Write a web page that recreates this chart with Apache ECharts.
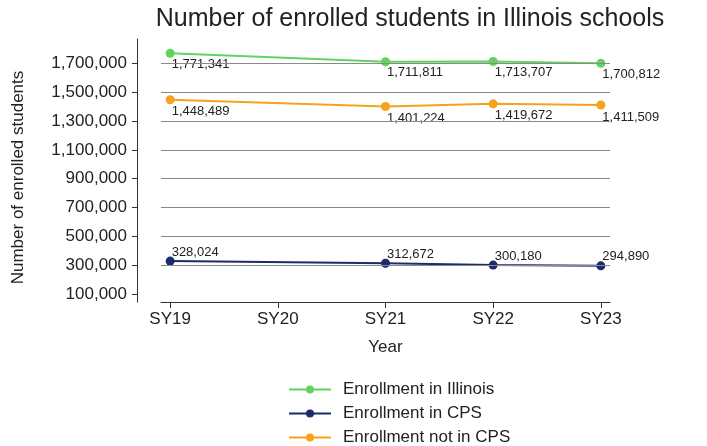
<!DOCTYPE html>
<html>
<head>
<meta charset="utf-8">
<script src="https://cdn.jsdelivr.net/npm/echarts@6/dist/echarts.min.js"></script>
<style>html,body{margin:0;padding:0;background:#fff}#c{width:707px;height:446px}</style>
</head>
<body>
<div id="c"></div>
<script>
const categories = ['SY19', 'SY20', 'SY21', 'SY22', 'SY23'];
const illinois = [1771341, null, 1711811, 1713707, 1700812];
const cps = [328024, null, 312672, 300180, 294890];
const notCps = [1448489, null, 1401224, 1419672, 1411509];
const yTicks = [100000, 300000, 500000, 700000, 900000, 1100000, 1300000, 1500000, 1700000];
const gridValues = [300000, 500000, 700000, 900000, 1100000, 1300000, 1500000, 1700000];
const seriesNames = ['Enrollment in Illinois', 'Enrollment in CPS', 'Enrollment not in CPS'];

const FONT = 'Liberation Sans';
const fmt = v => Number(v).toLocaleString('en-US');
const toPts = arr => categories.map((c, i) => [i, arr[i]]).filter(p => p[1] !== null);

const chart = echarts.init(document.getElementById('c'), null, {renderer: 'canvas'});

function lineSeries(name, arr, color, labelPos, z) {
  return {
    name: name,
    type: 'line',
    data: toPts(arr),
    z: z,
    symbol: 'circle',
    symbolSize: 9,
    lineStyle: {color: color, width: 2},
    itemStyle: {color: color},
    label: {
      show: true,
      position: labelPos,
      align: 'left',
      verticalAlign: 'middle',
      color: '#222',
      fontFamily: FONT,
      fontSize: 13,
      formatter: p => fmt(p.value[1])
    },
    emphasis: {disabled: true},
    animation: false
  };
}

chart.setOption({
  animation: false,
  title: {
    text: 'Number of enrolled students in Illinois schools',
    left: 405,
    textAlign: 'center',
    top: 2,
    textStyle: {fontFamily: FONT, fontSize: 25, fontWeight: 'normal', color: '#222'}
  },
  grid: {left: 161, right: 97, top: 39, bottom: 144, containLabel: false},
  legend: {
    orient: 'vertical',
    left: 288,
    top: 381,
    padding: 0,
    height: 66,
    itemWidth: 42,
    itemHeight: 10,
    itemGap: 7,
    data: seriesNames,
    textStyle: {fontFamily: FONT, fontSize: 17, color: '#222', padding: [0, 0, 0, 7]}
  },
  xAxis: {
    type: 'value',
    min: -0.085,
    max: 4.085,
    name: 'Year',
    nameLocation: 'middle',
    nameGap: 37,
    nameTextStyle: {fontFamily: FONT, fontSize: 17, color: '#222'},
    axisLine: {show: true, onZero: false, lineStyle: {color: '#333', width: 1}},
    axisTick: {show: true, length: 6, customValues: [0, 1, 2, 3, 4], lineStyle: {color: '#333'}},
    axisLabel: {
      customValues: [0, 1, 2, 3, 4],
      formatter: v => categories[Math.round(v)],
      fontFamily: FONT, fontSize: 17, color: '#222', margin: 9
    },
    splitLine: {show: false}
  },
  yAxis: {
    type: 'value',
    min: 44000,
    max: 1870000,
    offset: 24,
    name: 'Number of enrolled students',
    nameLocation: 'middle',
    nameRotate: 90,
    nameGap: 110,
    nameTextStyle: {fontFamily: FONT, fontSize: 17, color: '#222', padding: [0, 14, 0, 0]},
    axisLine: {show: true, onZero: false, lineStyle: {color: '#333', width: 1}},
    axisTick: {show: true, length: 5, customValues: yTicks, lineStyle: {color: '#333'}},
    axisLabel: {
      customValues: yTicks,
      formatter: v => fmt(v),
      fontFamily: FONT, fontSize: 17, color: '#222', margin: 10
    },
    splitLine: {show: false}
  },
  series: [
    {
      type: 'line',
      data: [],
      z: 1,
      silent: true,
      markLine: {
        silent: true,
        symbol: 'none',
        label: {show: false},
        lineStyle: {color: '#8a8a8a', type: 'solid', width: 1},
        data: gridValues.map(v => ({yAxis: v})),
        animation: false
      }
    },
    lineSeries(seriesNames[0], illinois, '#62d45c', [6, 15.5], 3),
    lineSeries(seriesNames[1], cps, '#1b2b6b', [6, -4.5], 3),
    lineSeries(seriesNames[2], notCps, '#f7a21c', [6, 16.5], 3)
  ]
});
</script>
</body>
</html>
